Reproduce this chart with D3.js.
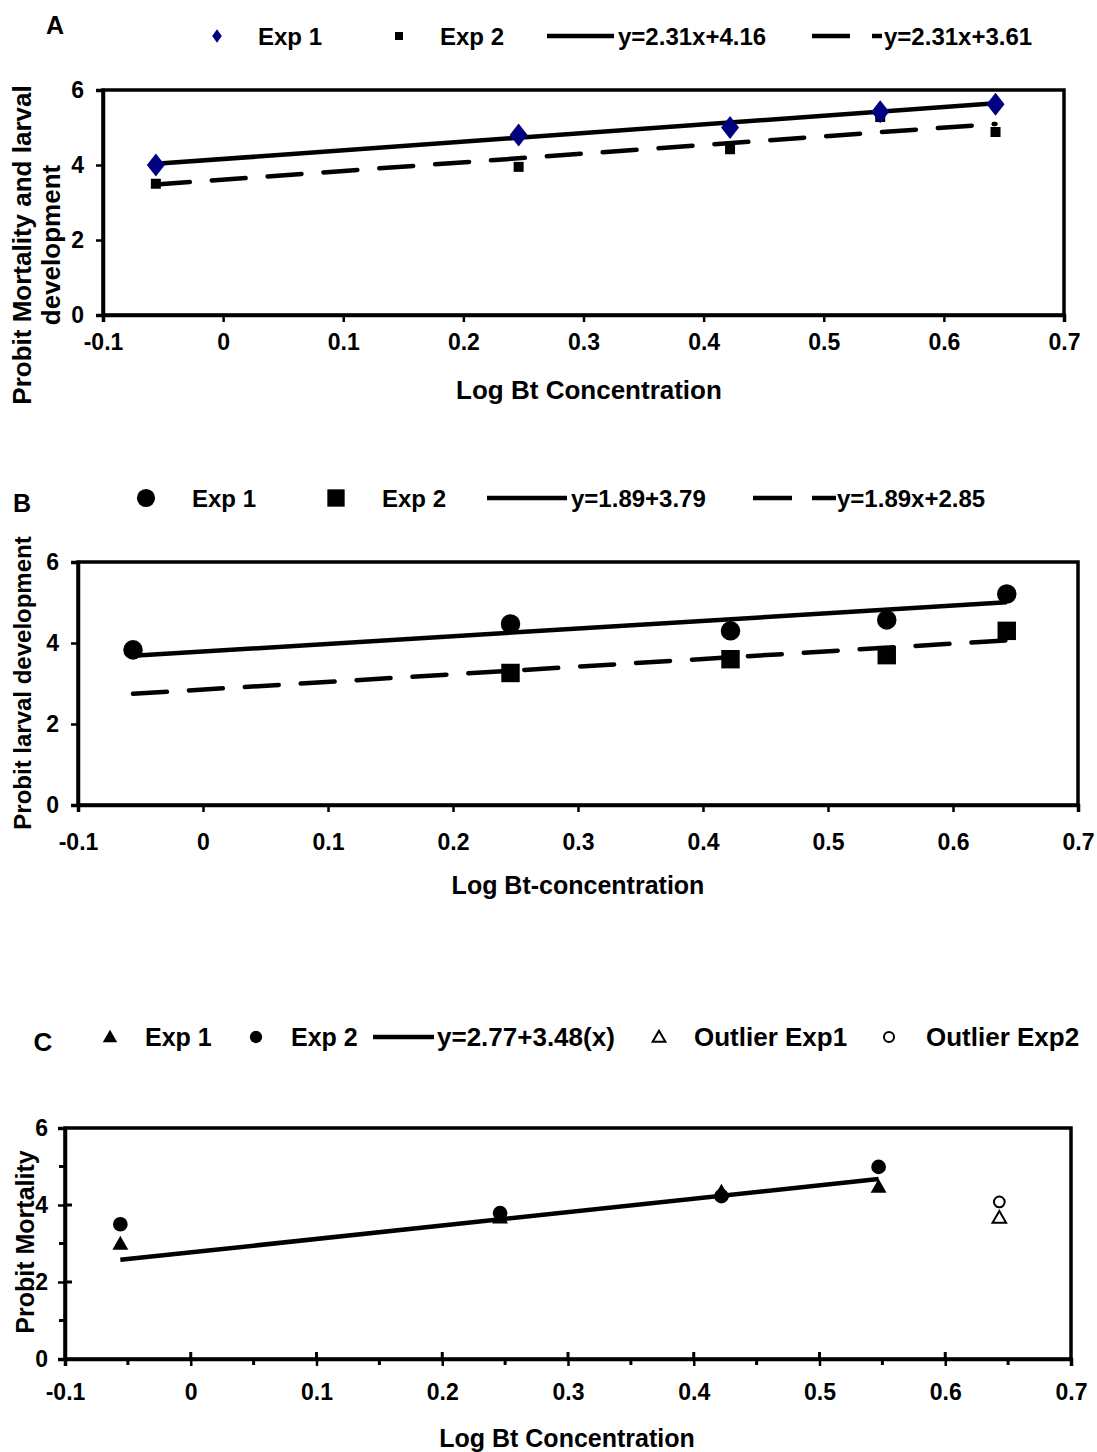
<!DOCTYPE html>
<html>
<head>
<meta charset="utf-8">
<script src="https://cdn.jsdelivr.net/npm/d3@7"></script>
<style>
  body { margin: 0; background: #fff; }
  svg text { font-family: "Liberation Sans", Arial, sans-serif; font-weight: bold; fill: #000; }
</style>
</head>
<body>
<script>
// log Bt concentration (x) shared by all panels
var logConc = [-0.056, 0.246, 0.422, 0.547, 0.643];
var xTicks = [-0.1, 0, 0.1, 0.2, 0.3, 0.4, 0.5, 0.6, 0.7];
var yTicks = [0, 2, 4, 6];

// panel A
var exp1A = [4.0, 4.8, 5.0, 5.42, 5.62];
var exp2A = [3.5, 3.95, 4.42, 5.28, 4.88];
var slopeA = [2.31, 2.31];
var interceptA = [4.16, 3.61];

// panel B (Exp 2 has no point at the lowest dose)
var exp1B = [3.83, 4.47, 4.3, 4.57, 5.21];
var xB2 = [0.246, 0.422, 0.547, 0.643];
var exp2B = [3.26, 3.6, 3.7, 4.3];
var slopeB = [1.89, 1.89];
var interceptB = [3.79, 2.85];

// panel C
var xC = [-0.056, 0.246, 0.422, 0.547];
var exp1C = [2.96, 3.64, 4.31, 4.44];
var exp2C = [3.5, 3.79, 4.23, 4.99];
var xOutlier = [0.643];
var outlier1C = [3.64];
var outlier2C = [4.08];
var slopeC = 3.48, interceptC = 2.77;

var W = 1097, H = 1452;
var svg = d3.select("body").append("svg")
    .attr("width", W)
    .attr("height", H);

var fmt = function(d) { return d === 0 ? "0" : d3.format(".1f")(d).replace("\u2212", "-"); };

function panel(o) {
  var x = d3.scaleLinear().domain([-0.1, 0.7]).range([o.left, o.right]);
  var y = d3.scaleLinear().domain([0, 6]).range([o.bottom, o.top]);
  var g = svg.append("g");

  // frame
  g.append("rect")
    .attr("x", o.left).attr("y", o.top)
    .attr("width", o.right - o.left).attr("height", o.bottom - o.top)
    .attr("fill", "none").attr("stroke", "#000").attr("stroke-width", 3.5);

  var xa = g.append("g")
    .attr("transform", "translate(0," + o.bottom + ")")
    .call(d3.axisBottom(x).tickValues(xTicks).tickFormat(fmt).tickSize(7).tickPadding(o.xPad));
  var ya = g.append("g")
    .attr("transform", "translate(" + o.left + ",0)")
    .call(d3.axisLeft(y).tickValues(yTicks).tickFormat(d3.format("d")).tickSize(7).tickPadding(o.yPad));
  [xa, ya].forEach(function(a) {
    a.select(".domain").attr("stroke-width", 3.5);
    a.selectAll(".tick line").attr("stroke-width", 2.5);
    a.selectAll("text").style("font-size", o.tickFont + "px");
  });
  return { x: x, y: y, g: g };
}

function fitLine(p, x0, x1, m, b, dash) {
  p.g.append("line")
    .attr("x1", p.x(x0)).attr("y1", p.y(m * x0 + b))
    .attr("x2", p.x(x1)).attr("y2", p.y(m * x1 + b))
    .attr("stroke", "#000").attr("stroke-width", 4.5)
    .attr("stroke-linecap", dash ? "round" : "butt")
    .attr("stroke-dasharray", dash || null);
}

function marks(p, xs, ys, type, size, fill, stroke) {
  p.g.selectAll(null).data(ys).enter().append("path")
    .attr("transform", function(d, i) { return "translate(" + p.x(xs[i]) + "," + p.y(d) + ")"; })
    .attr("d", d3.symbol().type(type).size(size))
    .attr("fill", fill).attr("stroke", stroke || "none").attr("stroke-width", 2);
}

function label(t, x, y, size, anchor, rot) {
  var el = svg.append("text")
    .attr("x", x).attr("y", y)
    .attr("text-anchor", anchor || "start")
    .attr("dominant-baseline", "central")
    .style("font-size", size + "px")
    .text(t);
  if (rot) el.attr("transform", "rotate(-90," + x + "," + y + ")");
  return el;
}

function legSym(type, size, cx, cy, fill, stroke) {
  svg.append("path")
    .attr("transform", "translate(" + cx + "," + cy + ")")
    .attr("d", d3.symbol().type(type).size(size))
    .attr("fill", fill).attr("stroke", stroke || "none").attr("stroke-width", 2);
}
function legLine(x1, x2, cy) {
  svg.append("line").attr("x1", x1).attr("x2", x2).attr("y1", cy).attr("y2", cy)
    .attr("stroke", "#000").attr("stroke-width", 4.5);
}

// ---------- A ----------
var pA = panel({ left: 103, right: 1064, top: 90, bottom: 315, xPad: 12, yPad: 12, tickFont: 23 });
fitLine(pA, logConc[0], logConc[4], slopeA[0], interceptA[0]);
fitLine(pA, logConc[0], logConc[4], slopeA[1], interceptA[1], "34,22");
marks(pA, logConc, exp2A, d3.symbolSquare, 100, "#000");
pA.g.selectAll(null).data(exp1A).enter().append("path")
  .attr("transform", function(d, i) { return "translate(" + pA.x(logConc[i]) + "," + pA.y(d) + ") scale(0.9,1.15) rotate(45)"; })
  .attr("d", d3.symbol().type(d3.symbolSquare).size(200))
  .attr("fill", "#000080");

label("A", 55, 25, 25, "middle");
svg.append("path").attr("transform", "translate(217,36) scale(0.85,1.2) rotate(45)")
  .attr("d", d3.symbol().type(d3.symbolSquare).size(64)).attr("fill", "#000080");
label("Exp 1", 258, 36, 24);
legSym(d3.symbolSquare, 64, 399, 36, "#000");
label("Exp 2", 440, 36, 24);
legLine(547, 614, 36);
label("y=2.31x+4.16", 618, 36, 24);
legLine(812, 850, 36);
legLine(872, 882, 36);
label("y=2.31x+3.61", 884, 36, 24);
label("Probit Mortality and larval", 22, 245, 26, "middle", true);
label("development", 51, 245, 26, "middle", true);
label("Log Bt Concentration", 589, 390, 26, "middle");

// ---------- B ----------
var pB = panel({ left: 78, right: 1078, top: 562, bottom: 805, xPad: 22, yPad: 12, tickFont: 23 });
fitLine(pB, logConc[0], logConc[4], slopeB[0], interceptB[0]);
fitLine(pB, logConc[0], logConc[4], slopeB[1], interceptB[1], "34,22");
marks(pB, logConc, exp1B, d3.symbolCircle, 300, "#000");
marks(pB, xB2, exp2B, d3.symbolSquare, 340, "#000");

label("B", 22, 503, 25, "middle");
legSym(d3.symbolCircle, 260, 146, 498, "#000");
label("Exp 1", 192, 498, 24);
legSym(d3.symbolSquare, 300, 336, 498, "#000");
label("Exp 2", 382, 498, 24);
legLine(487, 567, 498);
label("y=1.89+3.79", 571, 498, 24);
legLine(753, 792, 498);
legLine(812, 836, 498);
label("y=1.89x+2.85", 837, 498, 24);
label("Probit larval development", 22, 683, 24, "middle", true);
label("Log Bt-concentration", 578, 885, 25, "middle");

// ---------- C ----------
var pC = panel({ left: 65, right: 1071, top: 1128, bottom: 1359, xPad: 18, yPad: 10, tickFont: 23 });
// minor ticks and inward halves of the major ticks
pC.g.selectAll(null).data([1, 3, 5]).enter().append("line")
  .attr("x1", 65 - 6).attr("x2", 65).attr("y1", pC.y).attr("y2", pC.y)
  .attr("stroke", "#000").attr("stroke-width", 3);
pC.g.selectAll(null).data([2, 4]).enter().append("line")
  .attr("x1", 65).attr("x2", 72).attr("y1", pC.y).attr("y2", pC.y)
  .attr("stroke", "#000").attr("stroke-width", 3);
pC.g.selectAll(null).data([-0.05, 0.05, 0.15, 0.25, 0.35, 0.45, 0.55, 0.65]).enter().append("line")
  .attr("x1", pC.x).attr("x2", pC.x).attr("y1", 1359).attr("y2", 1365)
  .attr("stroke", "#000").attr("stroke-width", 3);
pC.g.selectAll(null).data(xTicks.slice(1, 8)).enter().append("line")
  .attr("x1", pC.x).attr("x2", pC.x).attr("y1", 1352).attr("y2", 1359)
  .attr("stroke", "#000").attr("stroke-width", 3);

fitLine(pC, xC[0], xC[3], slopeC, interceptC);
marks(pC, xC, exp2C, d3.symbolCircle, 170, "#000");
marks(pC, xC, exp1C, d3.symbolTriangle, 110, "#000");
marks(pC, xOutlier, outlier2C, d3.symbolCircle, 90, "#fff", "#000");
marks(pC, xOutlier, outlier1C, d3.symbolTriangle, 80, "#fff", "#000");

label("C", 43, 1042, 26, "middle");
legSym(d3.symbolTriangle, 90, 110, 1038, "#000");
label("Exp 1", 145, 1037, 25);
legSym(d3.symbolCircle, 120, 256, 1037, "#000");
label("Exp 2", 291, 1037, 25);
legLine(373, 434, 1037);
label("y=2.77+3.48(x)", 437, 1037, 26);
legSym(d3.symbolTriangle, 70, 659, 1038, "#fff", "#000");
label("Outlier Exp1", 694, 1037, 26);
legSym(d3.symbolCircle, 80, 889, 1037, "#fff", "#000");
label("Outlier Exp2", 926, 1037, 26);
label("Probit Mortality", 25, 1242, 25, "middle", true);
label("Log Bt Concentration", 567, 1438, 25, "middle");
</script>
</body>
</html>
